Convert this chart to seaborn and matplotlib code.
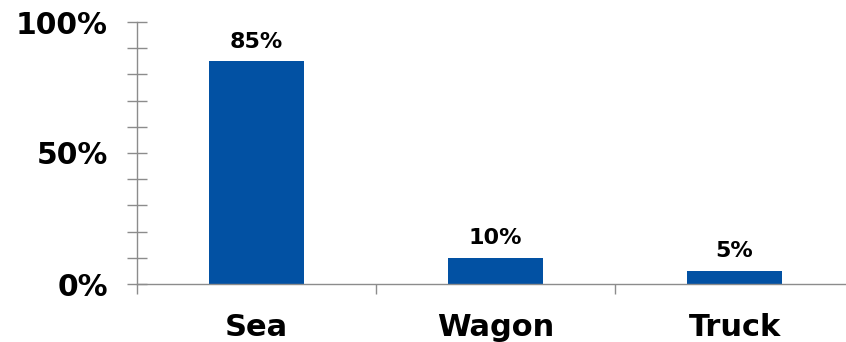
import matplotlib
matplotlib.use("Agg")
import matplotlib.pyplot as plt
from matplotlib.ticker import FixedLocator, PercentFormatter
import seaborn as sns
import pandas as pd

modes = ["Sea", "Wagon", "Truck"]
shares = [85, 10, 5]
value_labels = ["85%", "10%", "5%"]
bar_color = "#0251A3"

sns.set_theme(style="white")
plt.rcParams["font.family"] = ["DejaVu Sans"]
plt.rcParams["font.weight"] = "bold"

df = pd.DataFrame({"mode": modes, "share": shares})

fig = plt.figure(figsize=(8.46, 3.42), dpi=100)
ax = fig.add_axes([137 / 846, 1 - 284 / 342, 717 / 846, 262 / 342])

sns.barplot(data=df, x="mode", y="share", color=bar_color, width=0.4,
            saturation=1, linewidth=0, ax=ax)

ax.set_xlim(-0.5, 2.5)
ax.set_ylim(0, 100)
ax.set_xlabel("")
ax.set_ylabel("")

for spine in ["top", "right"]:
    ax.spines[spine].set_visible(False)
for spine in ["left", "bottom"]:
    ax.spines[spine].set_color("#8c8c8c")
    ax.spines[spine].set_linewidth(1.0)

# y axis: labels at 0/50/100, crossing ticks every 10%
ax.yaxis.set_major_locator(FixedLocator([0, 50, 100]))
ax.yaxis.set_minor_locator(FixedLocator(range(0, 101, 10)))
ax.yaxis.set_major_formatter(PercentFormatter(decimals=0))
ax.tick_params(axis="y", which="major", length=14, direction="inout",
               color="#8c8c8c", width=1, labelsize=21.5, pad=14,
               labelcolor="black", left=True)
ax.tick_params(axis="y", which="minor", length=14, direction="inout",
               color="#8c8c8c", width=1, left=True)

# x axis: category names without ticks, small tick marks between categories
ax.xaxis.set_minor_locator(FixedLocator([-0.5, 0.5, 1.5]))
ax.tick_params(axis="x", which="major", length=0, labelsize=22, pad=21,
               labelcolor="black")
ax.tick_params(axis="x", which="minor", length=7, direction="out",
               color="#8c8c8c", width=1, bottom=True)
for lbl in ax.get_xticklabels() + ax.get_yticklabels():
    lbl.set_fontweight("bold")

for i, (v, txt) in enumerate(zip(shares, value_labels)):
    ax.annotate(txt, xy=(i, v), xytext=(0, 7), textcoords="offset points",
                ha="center", va="bottom", fontsize=16, fontweight="bold",
                color="black")

fig.savefig("out.png", dpi=100)
